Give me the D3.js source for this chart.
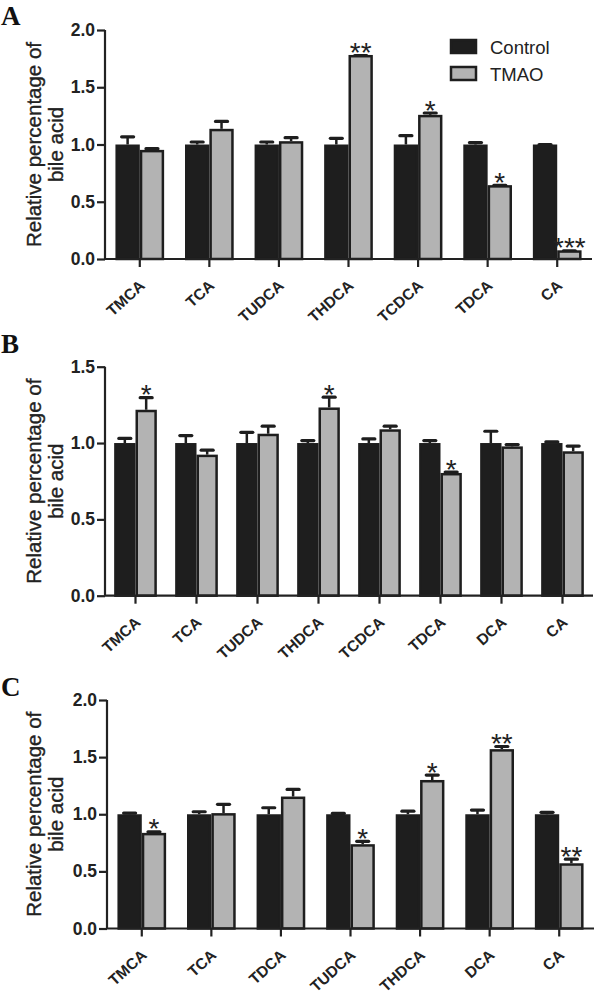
<!DOCTYPE html>
<html>
<head>
<meta charset="utf-8">
<script src="https://cdn.jsdelivr.net/npm/d3@7"></script>
<style>
  html, body { margin: 0; padding: 0; background: #fff; }
  svg { display: block; }
</style>
</head>
<body>
<div id="chart"></div>
<script>
// ---------- DATA ----------
const seriesNames = ["Control", "TMAO"];

const catsA = ["TMCA", "TCA", "TUDCA", "THDCA", "TCDCA", "TDCA", "CA"];
const ctrlA = [1, 1, 1, 1, 1, 1, 1];
const ctrlSemA = [0.08, 0.035, 0.035, 0.067, 0.09, 0.03, 0.012];
const tmaoA = [0.953, 1.137, 1.029, 1.782, 1.259, 0.645, 0.076];
const tmaoSemA = [0.024, 0.078, 0.044, 0.008, 0.029, 0.012, 0.008];
const sigA = ["", "", "", "**", "*", "*", "***"];
const ticksA = [0, 0.5, 1.0, 1.5, 2.0];

const catsB = ["TMCA", "TCA", "TUDCA", "THDCA", "TCDCA", "TDCA", "DCA", "CA"];
const ctrlB = [1, 1, 1, 1, 1, 1, 1, 1];
const ctrlSemB = [0.04, 0.059, 0.08, 0.026, 0.037, 0.026, 0.087, 0.017];
const tmaoB = [1.218, 0.924, 1.061, 1.233, 1.09, 0.804, 0.978, 0.946];
const tmaoSemB = [0.089, 0.039, 0.059, 0.077, 0.03, 0.016, 0.022, 0.044];
const sigB = ["*", "", "", "*", "", "*", "", ""];
const ticksB = [0, 0.5, 1.0, 1.5];

const catsC = ["TMCA", "TCA", "TDCA", "TUDCA", "THDCA", "DCA", "CA"];
const ctrlC = [1, 1, 1, 1, 1, 1, 1];
const ctrlSemC = [0.023, 0.035, 0.07, 0.02, 0.04, 0.05, 0.03];
const tmaoC = [0.837, 1.01, 1.155, 0.738, 1.30, 1.57, 0.571];
const tmaoSemC = [0.023, 0.09, 0.075, 0.038, 0.056, 0.036, 0.049];
const sigC = ["*", "", "", "*", "*", "**", "**"];
const ticksC = [0, 0.5, 1.0, 1.5, 2.0];

const yTitle = ["Relative percentage of", "bile acid"];

// ---------- DRAW ----------
const W = 597, H = 996;
const DARK = "#1e1e1e", GRAY = "#b3b3b3", INK = "#222";
const SANS = "'Liberation Sans', Arial, sans-serif";
const SERIF = "'Liberation Serif', 'Times New Roman', serif";

const svg = d3.select("#chart").append("svg")
  .attr("width", W).attr("height", H)
  .attr("viewBox", `0 0 ${W} ${H}`);

function panel(opts) {
  const { label, labelY, cats, ctrl, ctrlSem, tmao, tmaoSem, sig, ticks,
          left, right, top, bottom, legend } = opts;
  const g = svg.append("g");
  const yMax = ticks[ticks.length - 1];
  const y = d3.scaleLinear().domain([0, yMax]).range([bottom, top]);
  const x = d3.scaleBand().domain(cats).range([left, right])
    .paddingInner(0.3).paddingOuter(0.15);
  const xs = d3.scaleBand().domain(seriesNames).range([0, x.bandwidth()]).padding(0);

  const rows = cats.map((c, i) => ({
    cat: c, sig: sig[i],
    vals: [
      { key: "Control", v: ctrl[i], e: ctrlSem[i] },
      { key: "TMAO", v: tmao[i], e: tmaoSem[i] }
    ]
  }));

  const sw = 2.5;
  const grp = g.selectAll("g.cat").data(rows).join("g")
    .attr("class", "cat")
    .attr("transform", d => `translate(${x(d.cat)},0)`);

  // error bars (one-sided, upward)
  grp.each(function (d) {
    const gg = d3.select(this);
    d.vals.forEach(s => {
      const cx = xs(s.key) + xs.bandwidth() / 2;
      const yt = y(s.v + s.e) + 1.5;
      gg.append("line").attr("x1", cx).attr("x2", cx)
        .attr("y1", y(s.v)).attr("y2", yt)
        .attr("stroke", DARK).attr("stroke-width", 2.5);
      gg.append("line").attr("x1", cx - 6).attr("x2", cx + 6)
        .attr("y1", yt).attr("y2", yt)
        .attr("stroke", DARK).attr("stroke-width", 3.2)
        .attr("stroke-linecap", "round");
    });
  });

  // bars
  grp.selectAll("rect").data(d => d.vals).join("rect")
    .attr("x", d => xs(d.key) + sw / 2)
    .attr("width", xs.bandwidth() - sw)
    .attr("y", d => y(d.v) + sw / 2)
    .attr("height", d => Math.max(0, y(0) - y(d.v) - sw / 2))
    .attr("fill", d => d.key === "Control" ? DARK : GRAY)
    .attr("stroke", DARK).attr("stroke-width", sw);

  // significance stars
  grp.filter(d => d.sig).append("text")
    .attr("x", xs("TMAO") + xs.bandwidth() / 2)
    .attr("y", d => y(d.vals[1].v + d.vals[1].e) + 8)
    .attr("text-anchor", "middle")
    .attr("font-family", SANS).attr("font-size", 28)
    .attr("fill", INK)
    .text(d => d.sig);

  // y axis
  const yAxis = d3.axisLeft(y).tickValues(ticks).tickFormat(d3.format(".1f"))
    .tickSize(8).tickPadding(2);
  const ya = g.append("g").attr("transform", `translate(${left},0)`).call(yAxis);
  ya.select(".domain").attr("stroke", INK).attr("stroke-width", 2.2)
    .attr("d", `M0,${top}V${bottom}`);
  ya.selectAll(".tick line").attr("stroke", INK).attr("stroke-width", 2.2);
  ya.selectAll(".tick text").attr("font-family", SANS).attr("font-size", 17.5)
    .attr("font-weight", "bold").attr("fill", INK);

  // x axis
  const xAxis = d3.axisBottom(x).tickSize(8).tickSizeOuter(0);
  const xa = g.append("g").attr("transform", `translate(0,${bottom})`).call(xAxis);
  xa.select(".domain").attr("stroke", INK).attr("stroke-width", 2.2)
    .attr("d", `M${left},0H${right}`);
  xa.selectAll(".tick line").attr("stroke", INK).attr("stroke-width", 2.2);
  xa.selectAll(".tick text")
    .attr("font-family", SANS).attr("font-size", 15.5).attr("font-weight", "bold")
    .attr("fill", INK)
    .attr("text-anchor", "end")
    .attr("y", 0).attr("dy", 0)
    .attr("transform", "translate(6,28) rotate(-42)");

  // y title
  const cy = (top + bottom) / 2;
  const t = g.append("text")
    .attr("transform", `translate(0,${cy}) rotate(-90)`)
    .attr("text-anchor", "middle")
    .attr("font-family", SANS).attr("font-size", 20.5).attr("fill", INK)
    .attr("stroke", INK).attr("stroke-width", 0.35);
  t.append("tspan").attr("x", 0).attr("y", 40.5).text(yTitle[0]);
  t.append("tspan").attr("x", 0).attr("y", 62.5).text(yTitle[1]);

  // panel letter
  g.append("text").attr("x", 1).attr("y", labelY)
    .attr("font-family", SERIF).attr("font-weight", "bold")
    .attr("font-size", 27).attr("fill", "#111").text(label);

  if (legend) {
    const lg = g.append("g");
    const items = [{ k: "Control", f: DARK, yy: 40 }, { k: "TMAO", f: GRAY, yy: 67 }];
    items.forEach(it => {
      lg.append("rect").attr("x", 451).attr("y", it.yy).attr("width", 25).attr("height", 13)
        .attr("fill", it.f).attr("stroke", DARK).attr("stroke-width", 2.5);
      lg.append("text").attr("x", 490).attr("y", it.yy + 14)
        .attr("font-family", SANS).attr("font-size", 18.5).attr("fill", INK)
        .text(it.k);
    });
  }
}

panel({ label: "A", labelY: 25, cats: catsA, ctrl: ctrlA, ctrlSem: ctrlSemA,
  tmao: tmaoA, tmaoSem: tmaoSemA, sig: sigA, ticks: ticksA,
  left: 105, right: 592, top: 30, bottom: 259, legend: true });
panel({ label: "B", labelY: 353, cats: catsB, ctrl: ctrlB, ctrlSem: ctrlSemB,
  tmao: tmaoB, tmaoSem: tmaoSemB, sig: sigB, ticks: ticksB,
  left: 105, right: 593, top: 366.7, bottom: 595.7, legend: false });
panel({ label: "C", labelY: 696, cats: catsC, ctrl: ctrlC, ctrlSem: ctrlSemC,
  tmao: tmaoC, tmaoSem: tmaoSemC, sig: sigC, ticks: ticksC,
  left: 107, right: 594, top: 700, bottom: 928.5, legend: false });
</script>
</body>
</html>
